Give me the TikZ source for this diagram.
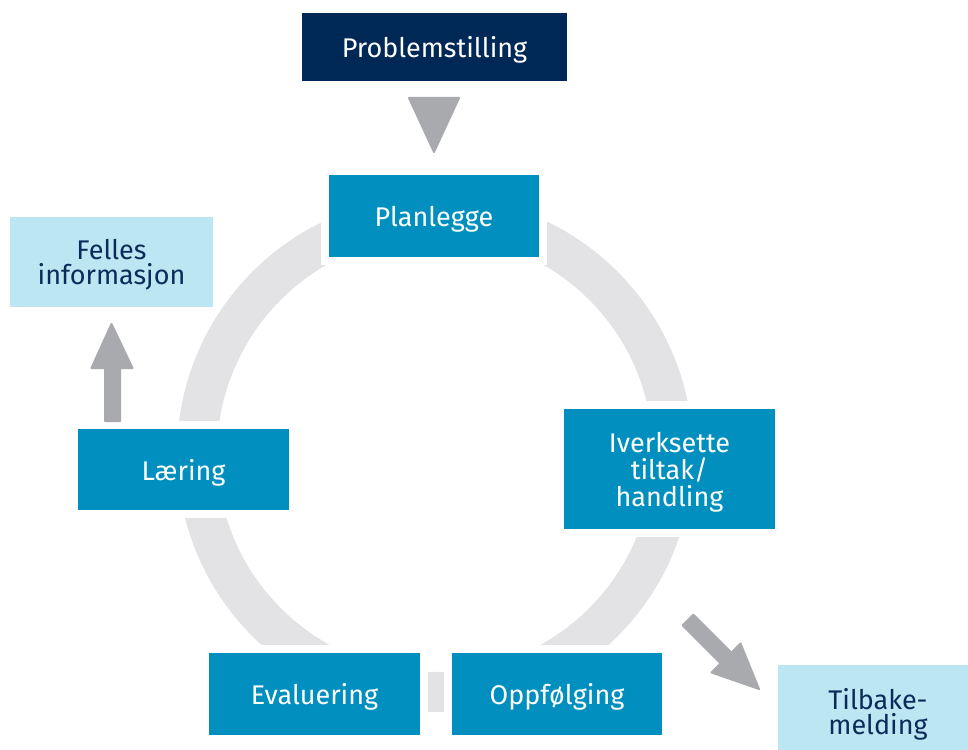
\documentclass[tikz,border=0pt]{standalone}
\usepackage{fontspec}
\setmainfont{Fira Sans}
\usetikzlibrary{calc}
\definecolor{navy}{HTML}{002856}
\definecolor{stepblue}{HTML}{008FBF}
\definecolor{lightblue}{HTML}{BDE6F3}
\definecolor{arrowgray}{HTML}{A9AAAE}
\definecolor{ringgray}{HTML}{E3E3E6}
\definecolor{textnavy}{HTML}{0B2C5A}
\begin{document}
\begin{tikzpicture}[x=1pt,y=-1pt,
  stepbox/.style={fill=stepblue, draw=white, line width=8pt, text=white,
    font=\fontsize{27}{27}\selectfont, align=center, inner sep=0pt, outer sep=0pt, text depth=0pt},
  topbox/.style={stepbox, fill=navy},
  infobox/.style={fill=lightblue, text=textnavy, font=\fontsize{27}{25}\selectfont,
    align=center, inner sep=0pt, outer sep=0pt, text depth=0pt},
  garrow/.style={fill=arrowgray, draw=arrowgray, line width=2pt, line join=round}]
\useasboundingbox (0,0) rectangle (968,749);
% ring
\draw[ringgray, line width=40pt] (435,454) circle[radius=238];
% nodes
\node[topbox, minimum width=273, minimum height=76] (prob) at (434.5,47) {Problemstilling};
\node[stepbox, minimum width=218, minimum height=90] (plan) at (434,216) {Planlegge};
\node[stepbox, minimum width=219, minimum height=128] (iverk) at (669.5,469) {Iverksette\\tiltak/\\handling};
\node[stepbox, minimum width=218, minimum height=90] (oppf) at (557,694) {Oppfølging};
\node[stepbox, minimum width=219, minimum height=90] (eval) at (314.5,694) {Evaluering};
\node[stepbox, minimum width=219, minimum height=89] (laer) at (183.5,469.5) {Læring};
\node[infobox, minimum width=203, minimum height=90] (felles) at (111.5,262) {Felles\\informasjon};
\node[infobox, minimum width=200, minimum height=92] (tilb) at (878,711) {Tilbake-\\melding};
% arrows
\fill[garrow] ($(prob.south)+(-25.5,13)$) -- ($(prob.south)+(24.5,13)$) -- ($(plan.north)+(0,-19)$) -- cycle;
\coordinate (ua) at ($(laer.north west)+(38.5,-4)$);
\coordinate (ub) at ($(felles.south)+(0,17)$);
\fill[garrow] ($(ua)+(-7.5,0)$) -- ($(ua)+(-7.5,-53)$) -- ($(ua)+(-21,-53)$) -- (ub)
  -- ($(ua)+(20,-53)$) -- ($(ua)+(7.5,-53)$) -- ($(ua)+(7.5,0)$) -- cycle;
\coordinate (da) at ($(iverk.south)+(18.5,87)$);
\coordinate (db) at ($(tilb.north west)+(-19,24)$);
\fill[garrow] ($(da)+(5.3,-5.3)$) -- ++(38,38) -- ++(9.2,-9.2) -- (db) -- ($(da)+(23.5,52.5)$) -- ++(9.2,-9.2) -- ($(da)+(-5.3,5.3)$) -- cycle;
\end{tikzpicture}
\end{document}
